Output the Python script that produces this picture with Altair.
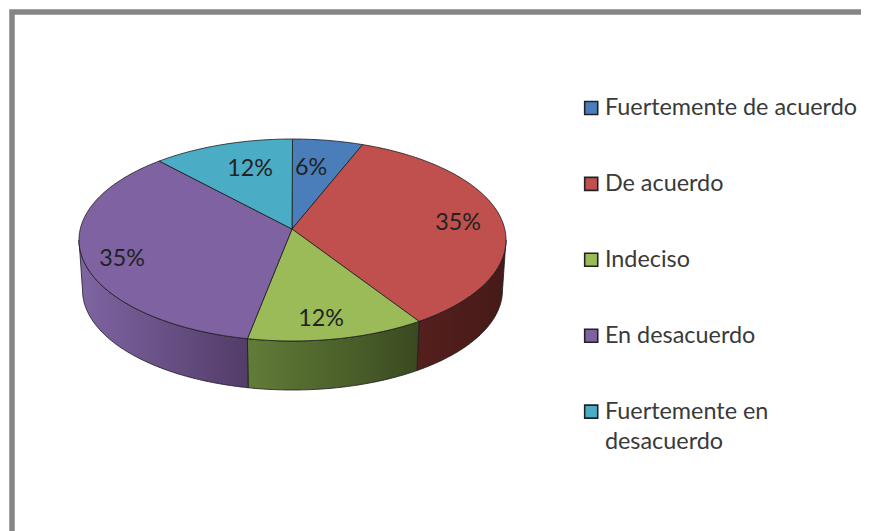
import math
import altair as alt

categories = ["Fuertemente de acuerdo", "De acuerdo", "Indeciso", "En desacuerdo", "Fuertemente en desacuerdo"]
percents = [6, 35, 12, 35, 12]
top_colors = ["#4a7ebb", "#c0504d", "#9bbb59", "#7f62a1", "#4bacc6"]
side_stops = {
    "De acuerdo": ["#551f1d", "#451a18"],
    "Indeciso": ["#627c38", "#3a4a20"],
    "En desacuerdo": ["#7f65a3", "#523c68"],
}
label_lon = [311, 458, 321, 122, 250]
label_lat = [168, 223, 319, 259, 169]

# Picture geometry of the tilted pie (page pixels)
CX, CY, RX, RY = 292.5, 240, 213.5, 101
BY, BRX, BRY = 290, 210, 100
APEX = (292, 229)
PERSPECTIVE = 0.885


def warp(theta):
    """Share of the turn to the position on the foreshortened ellipse (degrees)."""
    turns = math.floor(theta / 360)
    r = theta - turns * 360
    if abs(r - 180) < 1e-9:
        return theta
    h = math.radians(r / 2)
    t = 2 * math.degrees(math.atan2(PERSPECTIVE * math.sin(h), math.cos(h)))
    if t < 0:
        t += 360
    return turns * 360 + t


def rim(t, cy=CY, rx=RX, ry=RY):
    a = math.radians(t)
    return [CX + rx * math.sin(a), cy - ry * math.cos(a)]


def arc(t0, t1, **kw):
    n = max(2, int(abs(t1 - t0)) + 1)
    return [rim(t0 + (t1 - t0) * i / (n - 1), **kw) for i in range(n)]


edges = [0]
for p in percents:
    edges.append(edges[-1] + p * 3.6)
edges = [warp(e) for e in edges]
edges[-1] = 360

top_features = []
for i, name in enumerate(categories):
    ring = [list(APEX)] + arc(edges[i], edges[i + 1]) + [list(APEX)]
    top_features.append({"type": "Feature", "properties": {"name": name},
                         "geometry": {"type": "Polygon", "coordinates": [ring]}})

projection = alt.Projection(type="identity", scale=1, translate=[-8, -8])


def geo(features):
    return alt.InlineData(values={"type": "FeatureCollection", "features": features},
                          format=alt.DataFormat(property="features", type="json"))


side_layers = []
for i, name in enumerate(categories):
    if name not in side_stops:
        continue
    t0, t1 = max(edges[i], 90), min(edges[i + 1], 270)
    ring = arc(t0, t1) + arc(t1, t0, cy=BY, rx=BRX, ry=BRY)
    ring.append(ring[0])
    c0, c1 = side_stops[name]
    grad = alt.Gradient(gradient="linear", x1=0, x2=1, y1=0, y2=0,
                        stops=[alt.GradientStop(color=c0, offset=0), alt.GradientStop(color=c1, offset=1)])
    side_layers.append(
        alt.Chart(geo([{"type": "Feature", "properties": {"name": name},
                        "geometry": {"type": "Polygon", "coordinates": [ring]}}]))
        .mark_geoshape(fill=grad, stroke="#1c1c1c", strokeWidth=0.8)
        .project(**projection.to_dict())
    )

top = (
    alt.Chart(geo(top_features))
    .mark_geoshape(stroke="#1c1c1c", strokeWidth=0.8)
    .encode(
        color=alt.Color(
            "properties.name:N",
            scale=alt.Scale(domain=categories, range=top_colors),
            sort=categories,
            legend=alt.Legend(
                title=None, orient="none", legendX=571.5, legendY=88.3, padding=0,
                symbolType="square", symbolSize=170, symbolStrokeColor="#222222", symbolStrokeWidth=1.6,
                symbolOpacity=1,
                labelFont="Lato", labelFontSize=23.4, labelColor="#3a3a3a", labelOffset=2,
                labelLimit=300, rowPadding=50.9, labelBaseline="middle",
                labelExpr="datum.label == 'Fuertemente en desacuerdo' ? ['Fuertemente en', 'desacuerdo'] : datum.label",
            ),
        )
    )
    .project(**projection.to_dict())
)

label_rows = [
    {"lon": label_lon[i], "lat": label_lat[i], "text": f"{percents[i]}%"} for i in range(len(percents))
]
labels = (
    alt.Chart(alt.Data(values=label_rows))
    .mark_text(font="Lato", fontSize=23.3, color="#222222", align="center", baseline="middle")
    .encode(longitude="lon:Q", latitude="lat:Q", text="text:N")
    .project(**projection.to_dict())
)

frame_line = [[870, 12], [12, 12], [12, 540]]
frame = (
    alt.Chart(geo([{"type": "Feature", "properties": {},
                    "geometry": {"type": "LineString", "coordinates": frame_line}}]))
    .mark_geoshape(filled=False, stroke="#858585", strokeWidth=5.5)
    .project(**projection.to_dict())
)

chart = (
    alt.layer(frame, *side_layers, top, labels)
    .properties(width=853, height=523, background="white", padding=0,
                autosize=alt.AutoSizeParams(type="none"),
                config=alt.Config(view=alt.ViewConfig(stroke=None),
                                  style={"guide-label": {"lineHeight": 30}}))
)

chart.save("out.html", embed_options={"renderer": "svg", "actions": False})
